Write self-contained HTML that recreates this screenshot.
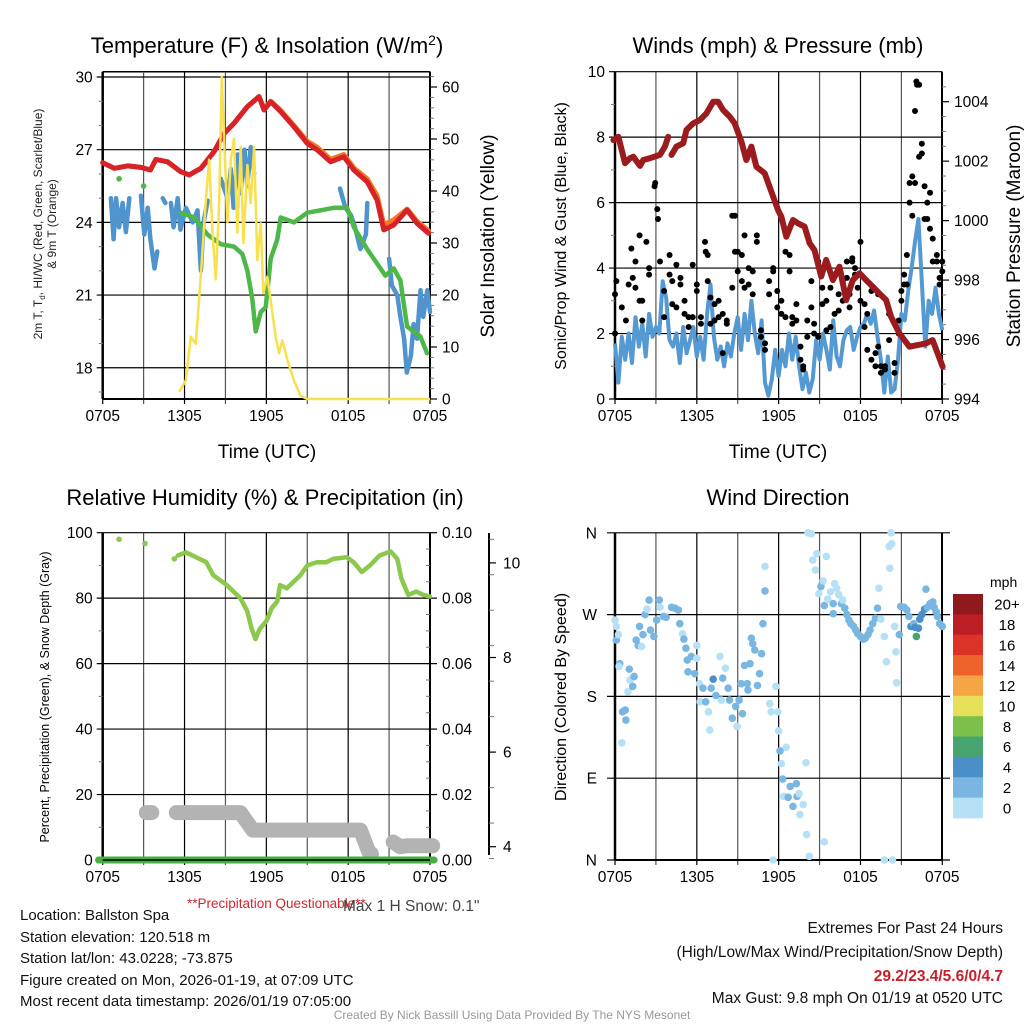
<!DOCTYPE html>
<html><head><meta charset="utf-8"><style>
html,body{margin:0;padding:0;background:#fff;}
svg{display:block;font-family:"Liberation Sans",Arial,sans-serif;}
</style></head><body>
<svg id="chart" width="1024" height="1024" viewBox="0 0 1024 1024" xmlns="http://www.w3.org/2000/svg">
<rect width="1024" height="1024" fill="#fff"/>
<g id="p1"></g>
<g id="p2"></g>
<g id="p3"></g>
<g id="p4"></g>

<text x="267" y="53" font-size="22" text-anchor="middle">Temperature (F) &amp; Insolation (W/m<tspan dy="-8" font-size="14">2</tspan><tspan dy="8">)</tspan></text>
<text x="778" y="53" font-size="22" text-anchor="middle">Winds (mph) &amp; Pressure (mb)</text>
<text x="265" y="505" font-size="22" text-anchor="middle">Relative Humidity (%) &amp; Precipitation (in)</text>
<text x="778" y="505" font-size="22" text-anchor="middle">Wind Direction</text>

<text x="267" y="458" font-size="19" text-anchor="middle">Time (UTC)</text>
<text x="778" y="458" font-size="19" text-anchor="middle">Time (UTC)</text>

<text transform="translate(42,224) rotate(-90)" font-size="12" text-anchor="middle" fill="#222">2m T, T<tspan font-size="8" dy="3">d</tspan><tspan dy="-3">, HI/WC (Red, Green, Scarlet/Blue)</tspan></text>
<text transform="translate(56,224) rotate(-90)" font-size="12" text-anchor="middle" fill="#222">&amp; 9m T (Orange)</text>
<text transform="translate(494,236) rotate(-90)" font-size="19" text-anchor="middle">Solar Insolation (Yellow)</text>
<text transform="translate(566,236) rotate(-90)" font-size="16" text-anchor="middle">Sonic/Prop Wind &amp; Gust (Blue, Black)</text>
<text transform="translate(1020,236) rotate(-90)" font-size="19" text-anchor="middle">Station Pressure (Maroon)</text>
<text transform="translate(49,697) rotate(-90)" font-size="12.5" text-anchor="middle">Percent, Precipitation (Green), &amp; Snow Depth (Gray)</text>
<text transform="translate(566,697) rotate(-90)" font-size="16" text-anchor="middle">Direction (Colored By Speed)</text>

<text x="187" y="908" font-size="13.5" fill="#d4252f">**Precipitation Questionable**</text>
<text x="343" y="911" font-size="15.5" fill="#444">Max 1 H Snow: 0.1"</text>

<g font-size="15" fill="#111">
<text x="20" y="920">Location: Ballston Spa</text>
<text x="20" y="942">Station elevation: 120.518 m</text>
<text x="20" y="963">Station lat/lon: 43.0228; -73.875</text>
<text x="20" y="985">Figure created on Mon, 2026-01-19, at 07:09 UTC</text>
<text x="20" y="1006">Most recent data timestamp: 2026/01/19 07:05:00</text>
</g>
<g font-size="15.5" fill="#111" text-anchor="end">
<text x="1003" y="933">Extremes For Past 24 Hours</text>
<text x="1003" y="957">(High/Low/Max Wind/Precipitation/Snow Depth)</text>
<text x="1003" y="981" fill="#c8202b" font-weight="bold">29.2/23.4/5.6/0/4.7</text>
<text x="1003" y="1003">Max Gust: 9.8 mph On 01/19 at 0520 UTC</text>
</g>
<text x="512" y="1019" font-size="12" fill="#999" text-anchor="middle">Created By Nick Bassill Using Data Provided By The NYS Mesonet</text>
</svg>
<script>
// ---------- DATA ----------
const xTickLabels = ["0705","1305","1905","0105","0705"];
// Temperature panel
const redH = [0,0.85,1.83,2.8,3.5,3.9,4.75,5.73,6.34,7.2,8.17,8.9,9.63,10.61,11.46,11.83,12.32,13.05,14.02,15.0,15.73,16.71,17.68,18.41,19.39,20.12,20.61,21.34,22.32,23.05,23.9];
const redV = [26.46,26.23,26.33,26.27,26.16,26.6,26.5,26.09,25.96,26.23,26.92,27.67,28.09,28.78,29.19,28.64,28.98,28.57,27.95,27.26,26.99,26.5,26.71,26.16,25.68,24.92,23.69,23.89,24.51,23.96,23.55];
const orangeV = [26.46,26.23,26.33,26.27,26.16,26.6,26.5,26.09,25.96,26.23,26.92,27.67,28.09,28.78,29.19,28.7,29.0,28.62,28.0,27.35,27.1,26.6,26.8,26.25,25.8,25.1,23.9,24.1,24.55,24.05,23.65];
const blueH = [0.6,0.8,0.98,1.2,1.46,1.7,1.95,null,2.8,3.05,3.3,3.5,3.8,4.0,null,4.4,4.6,null,5.0,5.2,5.5,5.7,6.1,6.6,6.95,7.2,7.4,7.7,null,8.66,9.15,9.4,9.6,9.9,10.1,10.4,10.6,10.85,11.1,null,17.4,17.8,18.2,18.5,18.9,19.3,19.4,null,21.0,21.2,21.6,21.8,22.1,22.3,22.6,22.8,23.05,23.3,23.5,23.8,24];
const blueV = [25.0,23.3,25.0,23.8,24.8,23.6,25.0,null,25.1,23.5,24.6,23.3,22.1,22.8,null,25.0,24.8,null,24.8,23.8,25.0,23.7,24.6,24.0,24.5,22.0,24.0,24.9,null,25.8,25.0,26.2,24.6,26.8,25.2,27.0,25.5,27.1,26.0,null,25.4,24.6,24.3,23.8,22.9,23.5,24.8,null,22.5,21.4,21.0,20.2,19.2,17.8,18.5,19.8,19.2,21.2,20.1,21.2,20.3];
const greenDotH = [1.2,3.0];
const greenDotV = [25.8,25.5];
const greenH = [5.73,6.71,7.68,8.66,9.63,10.24,10.61,10.98,11.22,11.59,11.95,12.32,12.8,13.05,14.02,15.0,15.98,16.95,17.93,18.41,19.39,20.12,20.73,21.34,21.83,22.32,22.8,23.29,23.78];
const greenV = [24.4,24.2,23.5,23.1,23.0,22.7,22.0,20.8,19.5,20.3,20.5,22.5,23.3,24.2,24.0,24.4,24.5,24.6,24.6,23.8,22.9,22.3,21.8,22.1,21.6,19.7,19.5,19.3,18.6];
const insH = [5.61,6.1,6.46,6.83,7.2,7.56,7.8,8.05,8.29,8.54,8.73,8.9,9.15,9.39,9.63,9.88,10.12,10.32,10.61,10.85,11.1,11.34,11.59,11.78,12.07,12.32,12.68,12.93,13.17,13.54,14.02,14.51,15.0,24.0];
const insV = [1.4,3.6,12,10.6,24,38,46,32,23,38,62,50,34,46,50,32,48.5,30,45,37.7,48.5,26.7,33.8,20.4,23.5,19,12,8.8,11.3,7.5,3.6,0.6,0,0];
const tempTicks = [18,21,24,27,30];
const insTicks = [0,10,20,30,40,50,60];
// Wind panel
const windH = [];
for (let i=0;i<=96;i++) windH.push(i*0.25);
const windV = [1.7,0.5,1.9,1.2,2.0,1.1,2.5,1.6,2.3,1.3,2.6,1.9,2.2,2.0,3.6,3.1,1.8,1.6,2.0,1.1,2.2,1.4,1.8,2.2,1.3,1.9,1.2,2.6,3.5,1.9,1.2,1.6,1.0,1.7,1.3,2.0,2.5,1.5,2.6,1.8,3.0,2.0,1.4,2.4,0.5,0.1,0.6,1.5,0.7,1.5,1.0,2.0,1.2,1.9,1.0,0.3,0.8,0.2,0.6,1.8,1.2,2.0,1.5,0.9,2.4,1.3,1.0,1.8,2.1,2.2,1.5,1.9,2.2,2.3,2.6,2.3,2.7,1.9,1.2,0.2,1.3,0.2,0.3,1.2,2.6,2.4,3.3,4.0,4.8,5.5,3.6,1.6,3.0,2.6,3.4,2.6,2.1];
const gustH = [0,0,0.1,0.5,0.8,1.0,1.2,1.3,1.5,1.5,1.8,1.8,2.0,2.0,2.3,2.5,2.5,2.9,2.95,3.1,3.15,3.3,3.6,3.6,4.0,4.0,4.2,4.2,4.5,4.5,4.8,4.8,5.1,5.1,5.4,5.4,5.7,5.7,6.0,6.0,6.3,6.3,6.6,6.65,6.8,6.8,7.0,7.0,7.3,7.3,7.6,7.6,7.9,7.9,8.2,8.2,8.6,8.6,8.8,8.8,9.0,9.0,9.3,9.3,9.5,9.5,9.8,9.8,10.1,10.1,10.4,10.4,10.7,10.7,11.0,11.0,11.3,11.3,11.6,11.6,11.9,11.9,12.2,12.2,12.5,12.5,12.8,12.8,13.0,13.0,13.3,13.3,13.6,13.6,13.8,13.8,14.1,14.1,14.4,14.4,14.6,14.6,14.9,14.9,15.2,15.2,15.5,15.5,15.8,15.8,16.1,16.1,16.4,16.4,16.7,16.7,17.0,17.0,17.2,17.2,17.4,17.4,17.6,17.6,17.8,17.8,18.0,18.0,18.3,18.3,18.5,18.5,18.8,18.8,19.1,19.1,19.3,19.3,19.5,19.5,19.8,19.8,20.1,20.1,20.5,20.5,20.8,20.8,21.0,21.0,21.2,21.2,21.4,21.4,21.6,21.6,21.8,21.8,22.0,22.0,22.1,22.15,22.3,22.3,22.5,22.5,22.7,22.7,22.9,22.9,23.1,23.1,23.3,23.3,23.6,23.6,23.8,23.8,24.0,24.0];
const gustV = [3.2,2.0,3.6,2.8,2.4,3.5,4.6,3.7,3.4,4.2,3.0,5.0,2.4,3.0,4.8,4.0,3.8,6.5,6.6,5.8,5.5,4.2,3.3,2.5,4.4,3.8,3.6,2.9,4.1,2.8,3.7,3.5,2.6,3.0,2.2,2.5,4.1,2.5,3.5,3.3,2.3,2.5,4.8,4.5,4.4,3.6,3.1,2.3,2.9,2.4,3.0,2.5,2.6,1.4,2.3,2.4,3.4,5.6,5.6,4.5,3.9,4.5,4.4,3.6,5.0,3.4,3.5,4.0,3.2,3.9,4.8,5.0,2.1,1.9,1.5,1.7,3.6,3.2,3.9,4.0,3.3,2.8,3.0,2.6,2.5,4.5,4.4,3.9,2.5,2.3,2.9,2.4,1.6,1.2,1.0,0.9,2.4,1.9,3.6,2.8,2.3,2.0,4.2,1.9,2.9,3.4,3.0,2.1,3.4,2.2,2.6,3.8,2.7,3.2,3.0,3.6,3.7,4.2,3.2,2.8,4.3,4.2,4.0,3.8,3.8,3.4,4.8,3.0,2.9,2.2,2.6,1.5,1.2,3.3,1.4,1.0,3.2,1.6,1.0,0.8,0.9,1.0,1.8,2.6,1.1,0.8,2.4,2.0,3.3,3.0,3.8,3.5,3.5,4.4,6.6,6.0,6.8,5.6,8.8,6.6,9.7,9.6,7.4,9.6,7.8,7.5,5.5,6.5,6.0,5.5,6.3,5.2,4.9,4.2,4.4,4.2,3.5,3.7,3.9,4.2];
const presH = [-0.12,0.24,0.49,0.73,1.1,1.34,1.83,2.07,2.56,3.29,3.66,3.9,null,4.146,4.51,5.0,5.24,5.73,6.22,6.71,7.2,7.56,7.93,8.41,8.78,9.27,9.63,10.0,10.37,10.98,11.59,11.95,12.2,12.56,13.05,13.41,13.9,14.27,14.63,15.12,15.49,15.98,16.46,16.95,17.44,17.93,18.41,18.9,19.39,19.88,20.24,20.85,21.59,22.8,23.29,24.02];
const presV = [1002.71,1002.82,1002.38,1001.93,1002.1,1002.15,1001.84,1002.04,1002.1,1002.21,1002.49,1002.82,null,1002.21,1002.49,1002.6,1003.05,1003.27,1003.38,1003.61,1004.0,1004.0,1003.72,1003.5,1003.27,1002.66,1002.04,1002.49,1001.81,1001.59,1000.81,1000.36,1000.13,999.46,1000.02,999.91,999.8,999.24,999.01,998.12,998.68,998.0,998.45,997.33,998.0,998.23,998.0,997.78,997.55,997.33,996.77,996.21,995.76,995.87,995.98,995.09,995.31,995.54];
const windTicks = [0,2,4,6,8,10];
const presTicks = [994,996,998,1000,1002,1004];
// Humidity panel
const rhDotH = [1.2,3.1,5.25];
const rhDotV = [98,96.7,92];
const rhH = [5.5,6.1,7.1,7.6,8.1,9.1,9.6,10.1,10.6,10.9,11.2,11.5,12.0,12.4,12.8,13.0,13.5,14.0,14.5,15.0,15.7,16.4,16.9,17.9,18.4,19.0,19.6,20.3,21.1,21.6,21.9,22.4,23.0,23.5,24.0];
const rhV = [93,94,92,91,87,84,82,80,76,71,67.5,70.5,73,77,79,84,83,85,87,90,91,91,92,92.5,91,88,90,93,94.3,92,86,81,82,81,80.5];
const snowSegments = [[[3.2,4.72],[3.6,4.72]],[[5.4,4.72],[10.1,4.72],[11.0,4.35],[18.9,4.35],[19.5,3.9],[19.7,3.85]],[[21.3,4.1],[21.8,4.0],[22.3,4.02],[24.2,4.02]]];
const precipH = [-0.3,24.3];
const precipV = [0,0];
const rhTicks = [0,20,40,60,80,100];
const precipTicks = ["0.00","0.02","0.04","0.06","0.08","0.10"];
const snowTicks = [4,6,8,10];
// Wind direction panel
const dirH = [0,0.1,0.1,0.25,0.35,0.3,0.55,0.75,0.8,0.5,0.95,1.05,1.1,1.3,1.4,1.55,1.7,1.8,1.95,2.05,2.2,2.35,2.5,2.6,2.85,3.05,3.25,3.3,3.55,3.75,4.15,4.4,4.65,4.75,4.95,5.05,5.2,5.3,5.35,5.6,5.85,6.0,6.0,6.2,6.25,6.45,6.65,6.85,6.95,7.05,7.2,7.4,7.7,7.8,7.9,8.1,8.3,8.4,8.6,8.85,8.95,9.1,9.25,9.35,9.5,9.7,9.75,9.9,10.0,10.1,10.25,10.45,10.6,10.75,10.85,11.0,11.0,11.35,11.45,11.8,11.95,12.0,12.1,12.2,12.3,12.55,12.35,12.7,12.85,13.05,13.3,13.35,13.5,13.55,13.8,14.0,14.05,14.25,11.6,15.35,14.15,14.4,14.5,14.7,14.8,14.95,15.1,15.25,15.35,15.5,15.6,15.8,16.0,16.0,16.1,16.25,16.4,16.6,16.7,16.85,17.0,17.15,17.3,17.5,17.65,17.8,18.0,18.2,18.35,18.55,18.7,18.9,19.1,19.25,19.35,19.5,19.75,19.9,20.1,20.25,20.3,20.15,19.75,20.35,20.5,20.6,20.65,20.85,20.95,21.2,21.4,21.55,21.7,21.9,22.0,22.1,22.25,22.35,22.5,22.7,22.8,22.9,23.1,23.3,23.4,23.55,23.65,23.8,24.0];
const dirDeg = [264,257,242,248,216,213,163,165,154,129,185,210,198,191,202,242,236,257,235,248,270,276,286,253,246,264,286,278,268,267,278,277,275,260,249,243,233,220,207,224,205,236,222,194,174,189,174,163,143,189,199,181,224,176,200,211,189,176,156,169,147,176,194,161,214,194,187,216,244,238,231,192,205,227,260,296,323,172,163,191,163,142,120,106,89,124,70,69,81,59,84,70,73,50,61,107,28,4,0,20,360,359,330,319,337,293,301,307,280,334,287,295,271,282,304,299,292,282,286,277,270,264,260,257,253,249,246,243,244,248,253,260,266,277,299,265,246,218,345,360,348,321,0,0,257,229,195,248,279,278,275,268,257,260,256,246,255,265,270,276,298,278,282,284,278,273,268,260,257];
const dirSpd = [1,1,3,1,3,1,3,3,3,1,1,3,1,3,3,3,3,3,1,3,3,1,3,3,3,3,3,1,3,3,3,3,3,3,1,3,3,3,3,3,3,1,1,1,1,3,3,1,1,3,5,3,1,1,3,1,3,3,3,3,1,3,3,3,3,3,3,3,3,3,3,3,3,3,3,3,1,1,1,1,1,1,3,1,3,1,1,3,3,3,3,3,1,1,1,1,1,1,1,1,1,1,1,1,1,1,3,1,3,1,1,1,3,3,1,1,1,3,1,3,3,3,3,3,3,3,3,3,3,3,3,3,3,3,1,1,1,1,1,1,1,1,1,1,1,1,1,3,3,3,3,3,5,3,5,7,5,5,5,5,3,3,3,3,3,3,3,3,3];
const cbarLabels = ["20+","18","16","14","12","10","8","6","4","2","0"];
const cbarColors = ["#8e1a1d","#bd1e26","#dc3328","#ee622b","#f6a545","#e5df5a","#7cc04a","#47a46e","#4a8fc8","#79b6e1","#b6e0f6"];
const dirTicks = ["N","E","S","W","N"];

// ---------- HELPERS ----------
const NS = "http://www.w3.org/2000/svg";
function el(parent, tag, attrs) {
  const e = document.createElementNS(NS, tag);
  for (const k in attrs) e.setAttribute(k, attrs[k]);
  parent.appendChild(e);
  return e;
}
const HPX = 327.3/24;
const x1 = h => 102.7 + h*HPX;
const x2 = h => 615 + h*HPX;
const yTemp = v => 77 + (30 - v)*24.23;
const yIns = v => 399 - v*5.2;
const yWind = v => 399 - v*32.73;
const yPres = p => 399 - (p - 994)*29.73;
const yRH = v => 860 - v*3.273;
const yPrecip = v => 860 - v*3273;
const ySnow = s => 846.7 - (s - 4)*47.3;
const yDir = d => 860 - d*0.9089;

function pathD(hs, vs, fx, fy) {
  let d = "", pen = false;
  for (let i=0;i<hs.length;i++) {
    if (hs[i] === null || vs[i] === null) { pen = false; continue; }
    d += (pen ? "L" : "M") + fx(hs[i]).toFixed(1) + "," + fy(vs[i]).toFixed(1);
    pen = true;
  }
  return d;
}

function frame(g, fx, L, T, R, B) {
  // vertical grid
  for (let k=0;k<=8;k++) {
    const x = fx(k*3);
    const ln = el(g, "line", {x1:x, y1:T, x2:x, y2:B+5, stroke:(k%2?"#555":"#000"), "stroke-width":1.2});
    
    
  }
  for (let k=0;k<5;k++) {
    const t = el(g, "text", {x:fx(k*6), y:B+22, "font-size":15.5, "text-anchor":"middle"});
    t.textContent = xTickLabels[k];
    
    
  }
  el(g, "line", {x1:L, y1:T, x2:L, y2:B, stroke:"#000", "stroke-width":2.5});
  el(g, "line", {x1:R, y1:T, x2:R, y2:B, stroke:"#000", "stroke-width":2});
  el(g, "line", {x1:L, y1:B, x2:R, y2:B, stroke:"#000", "stroke-width":2});
}
function hgrid(g, L, R, y, label, side, name) {
  const ln = el(g, "line", {x1:L-6, y1:y, x2:R, y2:y, stroke:"#000", "stroke-width":1.2});
  
  
  if (label !== null) {
    const t = el(g, "text", {x:L-10, y:y+5.5, "font-size":15.5, "text-anchor":"end"});
    t.textContent = label;
    
    
  }
}
function rtick(g, R, y, label, name, len) {
  el(g, "line", {x1:R, y1:y, x2:R+(len||7), y2:y, stroke:"#000", "stroke-width":1.2});
  const t = el(g, "text", {x:R+12, y:y+5.5, "font-size":15.5});
  t.textContent = label;
  
  
}
function minor(g, x, y, dir) {
  el(g, "line", {x1:x, y1:y, x2:x+dir*4, y2:y, stroke:"#777", "stroke-width":1});
}

// ---------- PANEL 1 ----------
(function(){
  const g = document.getElementById("p1");
  const L=102.7, R=430, T=71.7, B=399;
  el(g, "line", {x1:L, y1:T, x2:R, y2:T, stroke:"#000", "stroke-width":1.5});
  frame(g, x1, L, T, R, B);
  for (let v=17; v<=30; v++) if (!tempTicks.includes(v)) minor(g, L, yTemp(v), -1);
  for (let v=2; v<=62; v+=2) if (v%10) minor(g, R, yIns(v), 1);
  tempTicks.forEach(v => hgrid(g, L, R, yTemp(v), String(v), -1, "temperature"));
  insTicks.forEach(v => rtick(g, R, yIns(v), String(v), "insolation"));
  let p = el(g, "path", {d:pathD(redH, orangeV, x1, yTemp), fill:"none", stroke:"#f47b20", "stroke-width":5, "stroke-linejoin":"round", "stroke-linecap":"round"});
  
  
  p = el(g, "path", {d:pathD(redH, redV, x1, yTemp), fill:"none", stroke:"#d62228", "stroke-width":5, "stroke-linejoin":"round", "stroke-linecap":"round"});
  
  
  p = el(g, "path", {d:pathD(blueH, blueV, x1, yTemp), fill:"none", stroke:"#4f94cd", "stroke-width":4.5, "stroke-linejoin":"round", "stroke-linecap":"round"});
  
  
  p = el(g, "path", {d:pathD(greenH, greenV, x1, yTemp), fill:"none", stroke:"#4db848", "stroke-width":4.5, "stroke-linejoin":"round", "stroke-linecap":"round"});
  
  
  greenDotH.forEach((h,i) => {
    const c = el(g, "circle", {cx:x1(h), cy:yTemp(greenDotV[i]), r:2.8, fill:"#4db848"});
    
    
  });
  p = el(g, "path", {d:pathD(insH, insV, x1, yIns), fill:"none", stroke:"#f8e04e", "stroke-width":2.5, "stroke-linejoin":"round"});
  
  
})();

// ---------- PANEL 2 ----------
(function(){
  const g = document.getElementById("p2");
  const L=615, R=942, T=71.7, B=399;
  frame(g, x2, L, T, R, B);
  for (let v=1; v<10; v+=2) minor(g, L, yWind(v), -1);
  for (let p=994.5; p<1005; p+=0.5) if (p%2) minor(g, R, yPres(p), 1);
  windTicks.forEach(v => hgrid(g, L, R, yWind(v), String(v), -1, "wind"));
  presTicks.forEach(v => rtick(g, R, yPres(v), String(v), "pressure"));
  let p = el(g, "path", {d:pathD(windH, windV, x2, yWind), fill:"none", stroke:"#5599d3", "stroke-width":4, "stroke-linejoin":"round"});
  
  
  gustH.forEach((h,i) => {
    const c = el(g, "circle", {cx:x2(h), cy:yWind(gustV[i]), r:3, fill:"#000"});
    
    
  });
  p = el(g, "path", {d:pathD(presH, presV, x2, yPres), fill:"none", stroke:"#9b1b1e", "stroke-width":6, "stroke-linejoin":"round", "stroke-linecap":"round"});
  
  
})();

// ---------- PANEL 3 ----------
(function(){
  const g = document.getElementById("p3");
  const L=102.7, R=430, T=532.7, B=860;
  frame(g, x1, L, T, R, B);
  for (let v=10; v<100; v+=20) minor(g, L, yRH(v), -1);
  for (let v=0.005; v<0.1; v+=0.005) minor(g, R, yPrecip(v), -1);
  rhTicks.forEach((v,i) => {
    hgrid(g, L, R, yRH(v), String(v), -1, "humidity");
    rtick(g, R, yRH(v), precipTicks[i], "precip");
  });
  // snow axis
  el(g, "line", {x1:489, y1:533, x2:489, y2:855, stroke:"#000", "stroke-width":2});
  for (let s=3.75; s<10.6; s+=0.75) el(g, "line", {x1:489, y1:ySnow(s), x2:494, y2:ySnow(s), stroke:"#777", "stroke-width":1});
  snowTicks.forEach(s => {
    el(g, "line", {x1:489, y1:ySnow(s), x2:496, y2:ySnow(s), stroke:"#000", "stroke-width":1.2});
    const t = el(g, "text", {x:503, y:ySnow(s)+5.5, "font-size":15.5});
    t.textContent = String(s);
    
    
  });
  snowSegments.forEach(seg => {
    const p = el(g, "path", {d:pathD(seg.map(s=>s[0]), seg.map(s=>s[1]), x1, ySnow), fill:"none", stroke:"#b3b3b3", "stroke-width":15, "stroke-linejoin":"round", "stroke-linecap":"round"});
    
    
  });
  let p = el(g, "path", {d:pathD(precipH, precipV, x1, yPrecip), fill:"none", stroke:"#43b040", "stroke-width":7, "stroke-linecap":"round"});
  
  
  el(g, "line", {x1:L, y1:B, x2:R, y2:B, stroke:"#000", "stroke-width":1.5});
  p = el(g, "path", {d:pathD(rhH, rhV, x1, yRH), fill:"none", stroke:"#8cc84b", "stroke-width":4.5, "stroke-linejoin":"round", "stroke-linecap":"round"});
  
  
  rhDotH.forEach((h,i) => {
    const c = el(g, "circle", {cx:x1(h), cy:yRH(rhDotV[i]), r:2.8, fill:"#8cc84b"});
    
    
  });
})();

// ---------- PANEL 4 ----------
(function(){
  const g = document.getElementById("p4");
  const L=615, R=942, T=532.7, B=860;
  frame(g, x2, L, T, R, B);
  dirTicks.forEach((lab,i) => {
    const y = yDir(i*90);
    const ln = el(g, "line", {x1:L-8, y1:y, x2:R+8, y2:y, stroke:"#000", "stroke-width":1.2});
    
    
    const t = el(g, "text", {x:L-18, y:y+5.5, "font-size":15.5, "text-anchor":"end"});
    t.textContent = lab;
    
    
  });
  const spdColor = s => cbarColors[10 - Math.min(10, Math.floor(s/2))];
  dirH.forEach((h,i) => {
    const c = el(g, "circle", {cx:x2(h), cy:yDir(dirDeg[i]), r:3.8, fill:spdColor(dirSpd[i])});
    
    
  });
  // colorbar
  const cb = el(g, "g", {});
  
  
  const t0 = el(cb, "text", {x:990, y:587, "font-size":14});
  t0.textContent = "mph";
  
  
  const bh = 224/11;
  cbarColors.forEach((col,i) => {
    const r = el(cb, "rect", {x:953, y:594+i*bh, width:30, height:bh+0.4, fill:col});
    
    
    const t = el(cb, "text", {x:1007, y:594+i*bh+bh/2+5.5, "font-size":15, "text-anchor":"middle"});
    t.textContent = cbarLabels[i];
    
    
  });
})();
</script>
</body></html>
